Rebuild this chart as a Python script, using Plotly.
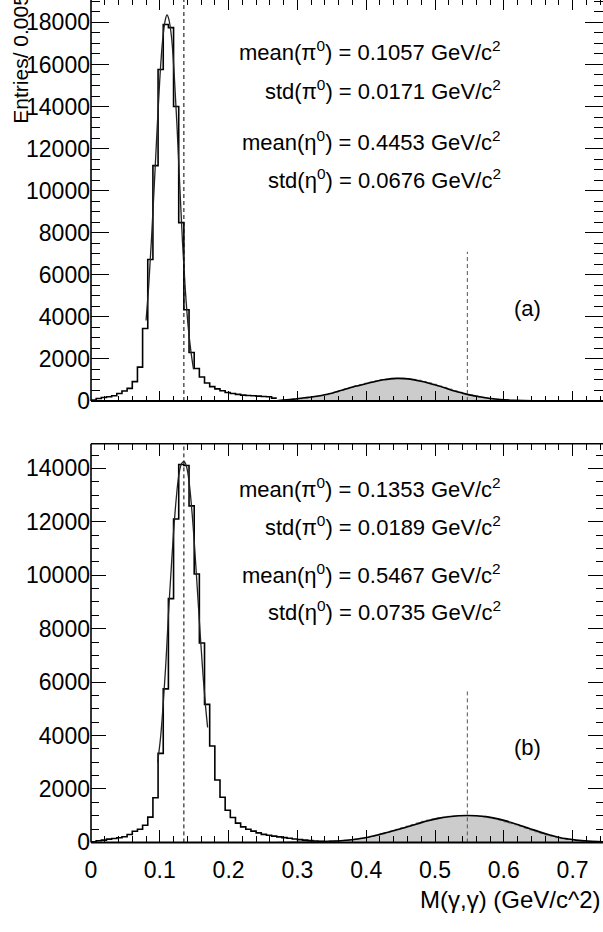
import numpy as np
import plotly.graph_objects as go

# ---------------- data ----------------
BIN_WIDTH = 0.0075
ETA_START_BIN = 36          # gray eta histogram starts at 0.27

# panel (a)
TOP_COUNTS = [50, 120, 170, 200, 250, 357, 480, 600,
              920, 1610, 3450, 6730, 11190, 15760, 17900, 17750,
              14000, 8480, 4340, 2310, 1545, 1140, 855, 685,
              580, 485, 405, 360, 315, 282, 265, 250,
              235, 218, 203, 140]
TOP_ETA_COUNTS = [20, 35, 55, 80, 105, 135, 165, 205,
                  250, 300, 360, 420, 500, 580, 650, 720,
                  790, 850, 910, 960, 1020, 1040, 1085, 1080,
                  1085, 1060, 1030, 990, 930, 870, 800, 720,
                  650, 570, 490, 420, 350, 290, 235, 185,
                  145, 110, 80, 60, 45, 30, 22, 15,
                  10, 8, 5, 4, 3, 2, 2, 1,
                  1, 1, 0, 0, 0, 0, 0, 0]
TOP_PI0_FIT_X = [0.080, 0.084, 0.088, 0.092, 0.096, 0.100, 0.104, 0.108, 0.1105,
                 0.113, 0.117, 0.121, 0.125, 0.129, 0.133, 0.137, 0.141, 0.145, 0.149]
TOP_PI0_FIT_Y = [3830, 5540, 7750, 10270, 12880, 15300, 17110, 18120, 18360,
                 18170, 17310, 15500, 13080, 10260, 7550, 5330, 3620, 2420, 1510]
TOP_ETA_FIT_X = [0.270, 0.285, 0.299, 0.316, 0.333, 0.350, 0.367, 0.384, 0.401, 0.413,
                 0.425, 0.435, 0.445, 0.455, 0.466, 0.478, 0.490, 0.502, 0.515, 0.527,
                 0.540, 0.552, 0.565, 0.578, 0.595, 0.615, 0.643, 0.680, 0.744]
TOP_ETA_FIT_Y = [16, 55, 109, 175, 250, 370, 540, 700, 830, 930,
                 1010, 1055, 1075, 1065, 1030, 950, 860, 750, 620, 490,
                 375, 280, 200, 135, 70, 35, 10, 3, 0]
TOP_TEXT = ["mean(π<sup>0</sup>) = 0.1057 GeV/c<sup>2</sup>",
            "std(π<sup>0</sup>) = 0.0171 GeV/c<sup>2</sup>",
            "mean(η<sup>0</sup>) = 0.4453 GeV/c<sup>2</sup>",
            "std(η<sup>0</sup>) = 0.0676 GeV/c<sup>2</sup>"]
TOP_ETA_LINE_HEIGHT = 7100

# panel (b)
BOT_COUNTS = [25, 61, 86, 123, 148, 172, 209, 295,
              418, 492, 640, 947, 1670, 3330, 5745, 9126,
              12103, 14145, 14108, 12595, 10049, 7465, 5166, 3610,
              2337, 1690, 1205, 930, 720, 580, 490, 420,
              355, 300, 265, 235, 205, 178, 152, 126,
              102, 86, 64, 50, 38, 27]
BOT_ETA_COUNTS = [5, 10, 15, 20, 25, 30, 35, 40,
                  45, 50, 55, 60, 68, 80, 100, 125,
                  155, 185, 225, 270, 320, 370, 430, 490,
                  550, 610, 670, 730, 790, 840, 880, 920,
                  950, 975, 990, 1000, 1008, 1005, 995, 980,
                  955, 920, 880, 825, 765, 705, 660, 600,
                  530, 460, 395, 330, 270, 220, 175, 140,
                  110, 90, 72, 58, 46, 36, 28, 22]
BOT_PI0_FIT_X = [0.0968, 0.101, 0.105, 0.109, 0.1125, 0.116, 0.120, 0.124, 0.128, 0.132,
                 0.1355, 0.139, 0.143, 0.147, 0.151, 0.155, 0.159, 0.163, 0.1665, 0.1695]
BOT_PI0_FIT_Y = [3000, 3900, 5200, 6800, 8500, 10000, 11600, 12900, 13800, 14200,
                 14250, 14050, 13400, 12300, 10900, 9300, 7700, 6200, 5100, 4300]
BOT_ETA_FIT_X = [0.345, 0.367, 0.385, 0.401, 0.415, 0.430, 0.445, 0.459, 0.475, 0.490,
                 0.505, 0.520, 0.534, 0.547, 0.560, 0.574, 0.588, 0.600, 0.612, 0.623,
                 0.637, 0.652, 0.667, 0.681, 0.694, 0.705, 0.722, 0.744]
BOT_ETA_FIT_Y = [40, 70, 120, 184, 270, 369, 470, 578, 700, 810,
                 900, 960, 995, 1007, 998, 965, 900, 824, 735, 639,
                 520, 393, 280, 184, 125, 86, 50, 25]
BOT_TEXT = ["mean(π<sup>0</sup>) = 0.1353 GeV/c<sup>2</sup>",
            "std(π<sup>0</sup>) = 0.0189 GeV/c<sup>2</sup>",
            "mean(η<sup>0</sup>) = 0.5467 GeV/c<sup>2</sup>",
            "std(η<sup>0</sup>) = 0.0735 GeV/c<sup>2</sup>"]
BOT_ETA_LINE_HEIGHT = 5650

PI0_MASS = 0.135
ETA_MASS = 0.547
PANEL_LABELS = ["(a)", "(b)"]
X_TICKS = [0, 0.1, 0.2, 0.3, 0.4, 0.5, 0.6, 0.7]
TOP_Y_TICKS = [0, 2000, 4000, 6000, 8000, 10000, 12000, 14000, 16000, 18000]
BOT_Y_TICKS = [0, 2000, 4000, 6000, 8000, 10000, 12000, 14000]
X_TITLE = "M(γ,γ) (GeV/c^2)"
Y_TITLE = "Entries/ 0.005"

# ---------------- layout constants ----------------
W, H = 603, 932
ML = 91
FONT = "Liberation Sans, Arial, Helvetica, sans-serif"
X_PX_PER_UNIT = 688.0
X_RANGE = [0, (W - ML) / X_PX_PER_UNIT]
TOP_YMAX = 19064
BOT_YMAX = 14923
TICK_FONT = 23


def px_x(p):
    return (p - ML) / (W - ML)


def px_y(p):
    return (H - p) / H


def step_xy(start_bin, counts):
    edges = (start_bin + np.arange(len(counts) + 1)) * BIN_WIDTH
    return edges, list(counts) + [counts[-1]]


fig = go.Figure()


def add_panel(xa, ya, counts, eta_counts, pi0x, pi0y, etax, etay, eta_h, ymax):
    ex, ey = step_xy(ETA_START_BIN, eta_counts)
    fig.add_trace(go.Scatter(x=ex, y=ey, mode="lines", line=dict(shape="hv", color="#808080", width=1),
                             fill="tozeroy", fillcolor="#cccccc", xaxis=xa, yaxis=ya, hoverinfo="skip"))
    hx, hy = step_xy(0, counts)
    fig.add_trace(go.Scatter(x=hx, y=hy, mode="lines", line=dict(shape="hv", color="black", width=1.6),
                             xaxis=xa, yaxis=ya, hoverinfo="skip"))
    fig.add_trace(go.Scatter(x=pi0x, y=pi0y, mode="lines",
                             line=dict(shape="spline", smoothing=1, color="#222222", width=1.3),
                             xaxis=xa, yaxis=ya, hoverinfo="skip"))
    fig.add_trace(go.Scatter(x=etax, y=etay, mode="lines",
                             line=dict(shape="spline", smoothing=1, color="black", width=1.6),
                             xaxis=xa, yaxis=ya, hoverinfo="skip"))
    fig.add_trace(go.Scatter(x=[PI0_MASS, PI0_MASS], y=[0, ymax], mode="lines",
                             line=dict(color="black", width=1, dash="4px,3px"),
                             xaxis=xa, yaxis=ya, hoverinfo="skip"))
    fig.add_trace(go.Scatter(x=[ETA_MASS, ETA_MASS], y=[0, eta_h], mode="lines",
                             line=dict(color="#555555", width=1, dash="4px,3px"),
                             xaxis=xa, yaxis=ya, hoverinfo="skip"))


add_panel("x", "y", TOP_COUNTS, TOP_ETA_COUNTS, TOP_PI0_FIT_X, TOP_PI0_FIT_Y,
          TOP_ETA_FIT_X, TOP_ETA_FIT_Y, TOP_ETA_LINE_HEIGHT, TOP_YMAX)
add_panel("x2", "y2", BOT_COUNTS, BOT_ETA_COUNTS, BOT_PI0_FIT_X, BOT_PI0_FIT_Y,
          BOT_ETA_FIT_X, BOT_ETA_FIT_Y, BOT_ETA_LINE_HEIGHT, BOT_YMAX)


def xaxis_cfg(anchor, show_labels, major_len, minor_len):
    return dict(domain=[0, 1], anchor=anchor, range=X_RANGE, tickmode="array", tickvals=X_TICKS,
                showticklabels=show_labels, ticks="inside", ticklen=major_len, tickwidth=1.2,
                tickcolor="black", mirror="ticks", showline=False, showgrid=False, zeroline=False,
                ticklabelstandoff=12,
                tickfont=dict(size=TICK_FONT, color="black", family=FONT),
                minor=dict(ticks="inside", ticklen=minor_len, tickwidth=1, tickcolor="black",
                           tickmode="linear", tick0=0, dtick=0.02, showgrid=False))


def yaxis_cfg(anchor, domain, ymax, ticks, major_len, minor_len):
    return dict(domain=domain, anchor=anchor, range=[0, ymax], tickmode="array", tickvals=ticks,
                tickformat="d", ticks="inside", ticklen=major_len, tickwidth=1.2, tickcolor="black",
                mirror="ticks", showline=False, showgrid=False, zeroline=False,
                tickfont=dict(size=TICK_FONT, color="black", family=FONT),
                minor=dict(ticks="inside", ticklen=minor_len, tickwidth=1, tickcolor="black",
                           tickmode="linear", tick0=0, dtick=500, showgrid=False))


shapes = []
for xa, ya, top_line in (("x", "y", False), ("x2", "y2", True)):
    xr, yr = xa + " domain", ya + " domain"
    shapes.append(dict(type="line", xref=xr, yref=yr, x0=0, x1=1, y0=0, y1=0,
                       line=dict(color="black", width=2)))
    shapes.append(dict(type="line", xref=xr, yref=yr, x0=0, x1=0, y0=0, y1=1,
                       line=dict(color="black", width=1.6)))
    if top_line:
        shapes.append(dict(type="line", xref=xr, yref=yr, x0=0, x1=1, y0=1, y1=1,
                           line=dict(color="black", width=1.6)))

annotations = []
RIGHT_X = px_x(503)
for texts, ys in ((TOP_TEXT, (52, 91, 143, 182)), (BOT_TEXT, (495, 533, 582, 620))):
    for t, yp in zip(texts, ys):
        annotations.append(dict(text=t, x=RIGHT_X, y=px_y(yp), xref="paper", yref="paper",
                                xanchor="right", yanchor="middle", showarrow=False,
                                font=dict(size=22, family=FONT, color="black")))
for lab, yp in zip(PANEL_LABELS, (313, 758)):
    annotations.append(dict(text=lab, x=px_x(527), y=px_y(yp), xref="paper", yref="paper",
                            xanchor="center", yanchor="middle", showarrow=False,
                            font=dict(size=22, family=FONT, color="black")))
annotations.append(dict(text=X_TITLE, x=1, y=px_y(912), xref="paper", yref="paper",
                        xanchor="right", yanchor="middle", showarrow=False,
                        font=dict(size=24, family=FONT, color="black")))
annotations.append(dict(text=Y_TITLE, x=px_x(20.5), y=px_y(128), xref="paper", yref="paper",
                        xanchor="center", yanchor="bottom", textangle=-90, showarrow=False,
                        font=dict(size=21, family=FONT, color="black")))

fig.update_layout(
    width=W, height=H, margin=dict(l=ML, r=0, t=0, b=0),
    paper_bgcolor="white", plot_bgcolor="white", showlegend=False,
    font=dict(family=FONT, size=22, color="black"),
    xaxis=xaxis_cfg("y", False, 10, 5),
    yaxis=yaxis_cfg("x", [px_y(406.7), 1], TOP_YMAX, TOP_Y_TICKS, 18, 9),
    xaxis2=xaxis_cfg("y2", True, 12.5, 6),
    yaxis2=yaxis_cfg("x2", [px_y(854.3), px_y(450)], BOT_YMAX, BOT_Y_TICKS, 15, 7.5),
    shapes=shapes, annotations=annotations,
)

fig.write_html("out.html", config={"displayModeBar": False})
